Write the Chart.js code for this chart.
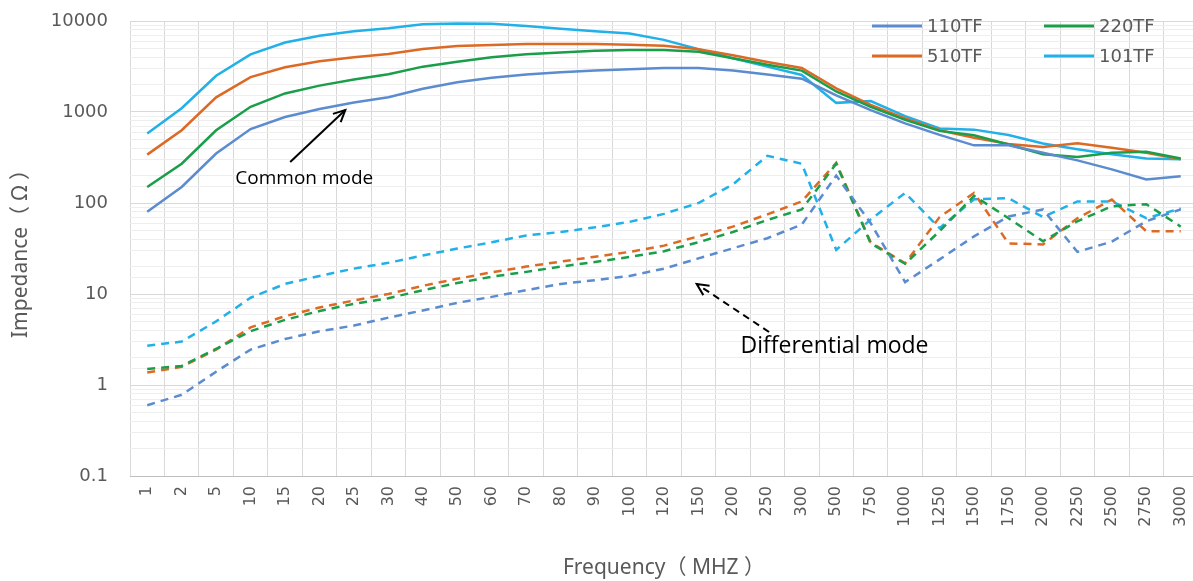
<!DOCTYPE html>
<html>
<head>
<meta charset="utf-8">
<script src="https://cdn.jsdelivr.net/npm/chart.js@4"></script>
<style>
  html, body { margin: 0; padding: 0; background: #fff; overflow: hidden; }
  #wrap { width: 1210px; height: 581px; }
</style>
</head>
<body>
<div id="wrap"><canvas id="chart" width="1210" height="581"></canvas></div>
<script>
/* ─── Data ────────────────────────────────────────────── */
const categories = ['1', '2', '5', '10', '15', '20', '25', '30', '40', '50', '60', '70', '80', '90', '100',
  '120', '150', '200', '250', '300', '500', '750', '1000', '1250', '1500', '1750', '2000', '2250', '2500', '2750', '3000'];

const seriesNames = ['110TF', '220TF', '510TF', '101TF'];

// common mode (solid)
const cm110 = [80, 150, 350, 650, 880, 1080, 1270, 1450, 1800, 2120, 2380, 2580, 2740, 2860, 2950,
  3050, 3050, 2850, 2580, 2320, 1520, 1050, 750, 560, 430, 430, 357, 294, 234, 181, 197];
const cm220 = [150, 270, 630, 1140, 1600, 1950, 2280, 2600, 3150, 3570, 4000, 4300, 4500, 4700, 4800,
  4800, 4600, 3900, 3300, 2850, 1680, 1140, 820, 620, 555, 440, 343, 320, 357, 365, 309];
const cm510 = [340, 630, 1450, 2420, 3100, 3620, 4000, 4350, 4920, 5300, 5450, 5580, 5600, 5600, 5500,
  5350, 4900, 4200, 3550, 3050, 1820, 1200, 850, 630, 520, 445, 412, 453, 405, 357, 303];
const cm101 = [580, 1100, 2500, 4300, 5800, 6900, 7700, 8300, 9200, 9400, 9300, 8800, 8200, 7700, 7300,
  6200, 4900, 3900, 3150, 2550, 1260, 1320, 900, 660, 640, 560, 450, 390, 343, 309, 303];

// differential mode (dashed)
const dm110 = [0.6, 0.78, 1.4, 2.45, 3.2, 3.9, 4.5, 5.5, 6.6, 8.0, 9.3, 11, 12.9, 14.2, 15.8,
  19, 24.6, 31.8, 41, 58, 200, 60, 13.5, 24, 43, 71, 85, 29, 37.7, 63, 85];
const dm220 = [1.5, 1.62, 2.5, 3.9, 5.2, 6.5, 7.8, 9.0, 11, 13.2, 15.5, 17.5, 20, 22.5, 25.5,
  29.5, 37, 48, 65, 85, 270, 36, 21.5, 49, 120, 68, 38, 63, 92, 97, 55];
const dm510 = [1.37, 1.58, 2.45, 4.3, 5.7, 7.1, 8.5, 10, 12.3, 14.7, 17.3, 20, 22.7, 25.7, 29,
  34, 43, 55, 75, 104, 277, 37, 21.7, 70, 129, 36, 35, 68, 109, 49, 49];
const dm101 = [2.7, 3.0, 5.0, 9.1, 12.9, 15.8, 19, 22, 26.5, 31.6, 37, 44, 48, 54, 62,
  76, 100, 160, 330, 270, 30.5, 66, 129, 53, 110, 113, 70, 104, 104, 68, 87];

const yTicks = [0.1, 1, 10, 100, 1000, 10000];

/* ─── Styles ──────────────────────────────────────────── */
const C110 = '#5b8ccf';
const C220 = '#1a9e4a';
const C510 = '#dc6a25';
const C101 = '#22b0e8';
const TXT = '#595959';
const GRID = '#d9d9d9';
const GRID_MINOR = '#eeeeee';
const TICK_FONT = "'DejaVu Sans', sans-serif";
const TITLE_FONT = "'Noto Sans', 'Noto Sans CJK SC', sans-serif";
const NOTE_FONT = "'Open Sans', 'Noto Sans', sans-serif";

const solid = (label, data, color) => ({
  label, data, borderColor: color, backgroundColor: color,
  borderWidth: 2.5, pointRadius: 0, tension: 0, fill: false
});
const dashed = (label, data, color) => ({
  ...solid(label, data, color), borderDash: [8, 6]
});

/* ─── Legend (2 x 2, inside plot) ─────────────────────── */
const legendPlugin = {
  id: 'gridLegend',
  afterDraw(chart) {
    const c = chart.ctx;
    const cols = [872, 1044], rows = [26, 56];
    c.save();
    c.font = "18px " + TICK_FONT;
    c.textBaseline = 'middle';
    for (let i = 0; i < 4; i++) {
      const ds = chart.data.datasets[i];
      const x = cols[i % 2], y = rows[Math.floor(i / 2)];
      c.strokeStyle = ds.borderColor; c.lineWidth = 3;
      c.beginPath(); c.moveTo(x, y); c.lineTo(x + 50, y); c.stroke();
      c.fillStyle = TXT;
      c.fillText(ds.label, x + 55, y + 1);
    }
    c.restore();
  }
};

/* ─── Annotations (placed in data units) ──────────────── */
function arrow(c, x1, y1, x2, y2, dash) {
  c.save();
  c.strokeStyle = '#000'; c.lineWidth = 2;
  c.setLineDash(dash);
  c.beginPath(); c.moveTo(x1, y1); c.lineTo(x2, y2); c.stroke();
  c.setLineDash([]);
  const a = Math.atan2(y2 - y1, x2 - x1), L = 13;
  c.beginPath();
  c.moveTo(x2 - L * Math.cos(a - 0.45), y2 - L * Math.sin(a - 0.45));
  c.lineTo(x2, y2);
  c.lineTo(x2 - L * Math.cos(a + 0.45), y2 - L * Math.sin(a + 0.45));
  c.stroke();
  c.restore();
}
const notesPlugin = {
  id: 'notes',
  afterDatasetsDraw(chart) {
    const c = chart.ctx, xs = chart.scales.x, ys = chart.scales.y;
    const px = (i, v) => [xs.getPixelForValue(i), ys.getPixelForValue(v)];
    c.save();
    c.fillStyle = '#000';
    c.textAlign = 'center'; c.textBaseline = 'middle';
    c.font = "19px " + NOTE_FONT;
    let p = px(4.56, 184); c.fillText('Common mode', p[0], p[1]);
    c.font = "23px " + NOTE_FONT;
    p = px(19.95, 2.62); c.fillText('Differential mode', p[0], p[1]);
    let a = px(4.15, 282), b = px(5.75, 1052);
    arrow(c, a[0], a[1], b[0], b[1], []);
    a = px(18.05, 3.82); b = px(15.95, 12.9);
    arrow(c, a[0], a[1], b[0], b[1], [7, 5]);
    c.restore();
  }
};

/* ─── Chart ───────────────────────────────────────────── */
const isDecade = v => Math.abs(Math.log10(v) - Math.round(Math.log10(v))) < 1e-6;

new Chart(document.getElementById('chart'), {
  type: 'line',
  data: {
    labels: categories,
    datasets: [
      solid(seriesNames[0], cm110, C110),
      solid(seriesNames[1], cm220, C220),
      solid(seriesNames[2], cm510, C510),
      solid(seriesNames[3], cm101, C101),
      dashed(seriesNames[0], dm110, C110),
      dashed(seriesNames[1], dm220, C220),
      dashed(seriesNames[2], dm510, C510),
      dashed(seriesNames[3], dm101, C101)
    ]
  },
  options: {
    responsive: false, animation: false,
    layout: { padding: { top: 21, right: 4, left: 0, bottom: 0 } },
    plugins: { legend: { display: false }, tooltip: { enabled: false } },
    scales: {
      x: {
        type: 'category', offset: true,
        grid: { offset: true, color: GRID, drawTicks: false },
        border: { color: '#bfbfbf' },
        ticks: { autoSkip: false, minRotation: 90, maxRotation: 90, padding: 10,
          color: TXT, font: { family: TICK_FONT, size: 16 } },
        title: { display: true, text: 'Frequency（ MHZ ）', color: TXT,
          font: { family: TITLE_FONT, size: 21 }, padding: { top: 4, bottom: 0 } },
        afterFit: s => { s.height = 105; }
      },
      y: {
        type: 'logarithmic', min: yTicks[0], max: yTicks[yTicks.length - 1],
        grid: { color: ctx => isDecade(ctx.tick.value) ? GRID : GRID_MINOR,
          drawTicks: true, tickLength: 20, tickColor: 'rgba(0,0,0,0)' },
        border: { display: false },
        ticks: { autoSkip: false, padding: 2, color: TXT, font: { family: TICK_FONT, size: 18 },
          callback: v => (isDecade(v) && yTicks.some(t => Math.abs(t - v) / t < 1e-6)) ? (v < 1 ? String(v) : String(Math.round(v))) : '' },
        title: { display: true, text: 'Impedance（ Ω ）', color: TXT,
          font: { family: TITLE_FONT, size: 21 }, padding: { top: 8, bottom: 4 } },
        afterFit: s => { s.width = 130; }
      }
    }
  },
  plugins: [legendPlugin, notesPlugin]
});
</script>
</body>
</html>
